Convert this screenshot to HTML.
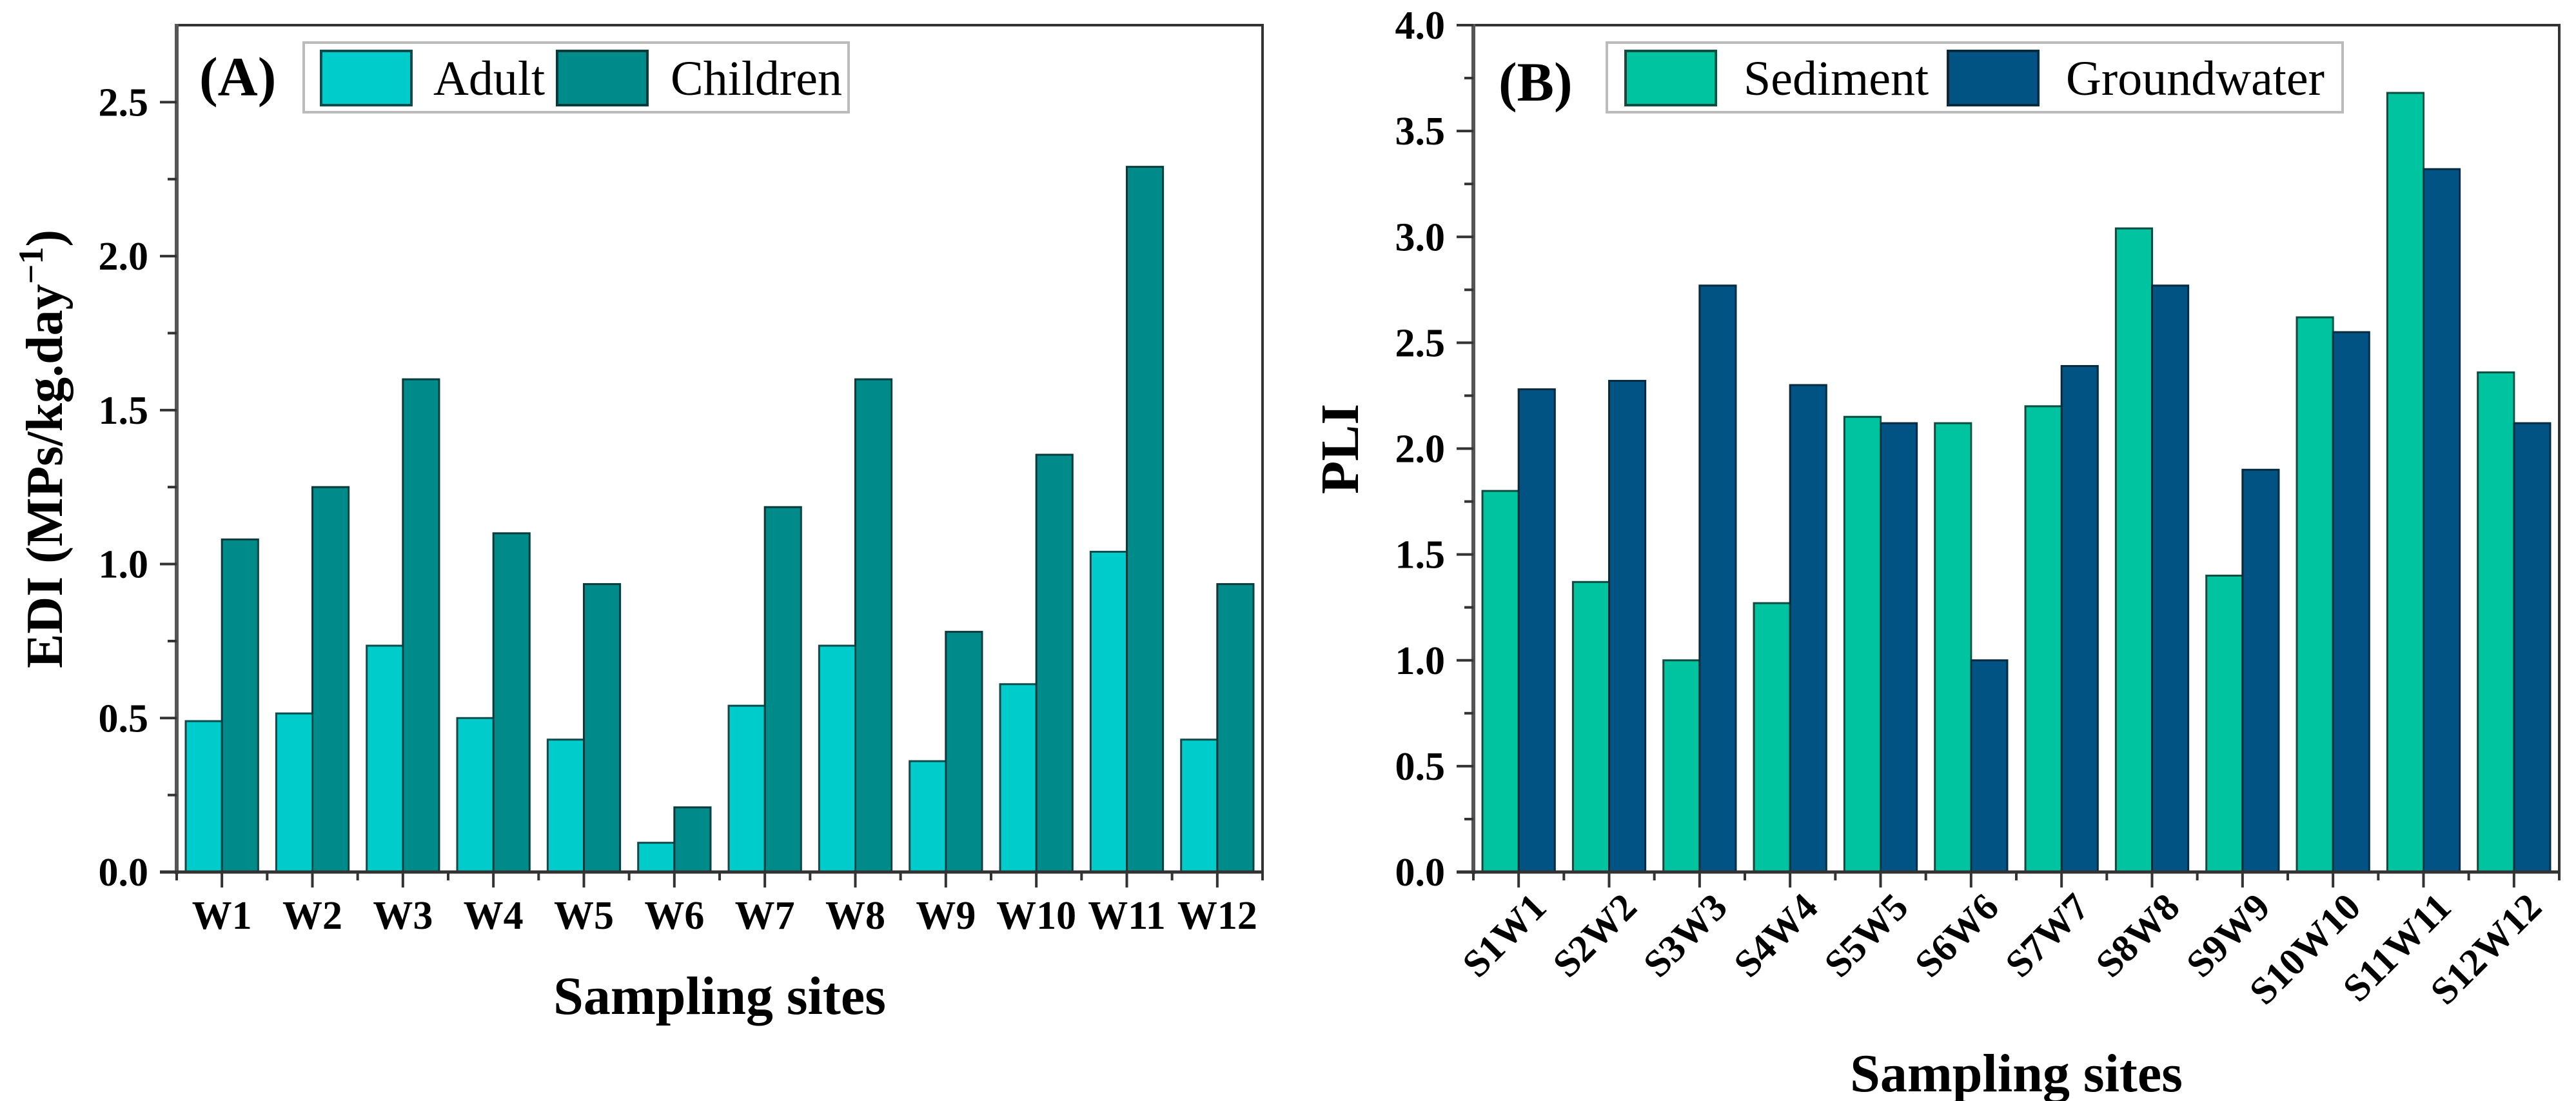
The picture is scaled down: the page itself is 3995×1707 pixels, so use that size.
<!DOCTYPE html>
<html><head><meta charset="utf-8"><style>
html,body{margin:0;padding:0;background:#fff;}
svg{display:block;font-family:"Liberation Serif","Times New Roman",serif;}
</style></head><body>
<svg id="chart" width="3995" height="1707" viewBox="0 0 3995 1707" xmlns="http://www.w3.org/2000/svg">
<rect x="0" y="0" width="3995" height="1707" fill="#fff"/>
<g id="panelA"></g>
<g id="panelB"></g>
</svg>
<script>
const catsA = ["W1","W2","W3","W4","W5","W6","W7","W8","W9","W10","W11","W12"];
const adultVals = [0.49,0.515,0.735,0.50,0.43,0.095,0.54,0.735,0.36,0.61,1.04,0.43];
const childVals = [1.08,1.25,1.60,1.10,0.935,0.21,1.185,1.60,0.78,1.355,2.29,0.935];
const ticksA = [0,0.5,1.0,1.5,2.0,2.5];
const tickLabelsA = ["0.0","0.5","1.0","1.5","2.0","2.5"];

const catsB = ["S1W1","S2W2","S3W3","S4W4","S5W5","S6W6","S7W7","S8W8","S9W9","S10W10","S11W11","S12W12"];
const sedimentVals = [1.80,1.37,1.00,1.27,2.15,2.12,2.20,3.04,1.40,2.62,3.68,2.36];
const groundVals = [2.28,2.32,2.77,2.30,2.12,1.00,2.39,2.77,1.90,2.55,3.32,2.12];
const ticksB = [0,0.5,1.0,1.5,2.0,2.5,3.0,3.5,4.0];
const tickLabelsB = ["0.0","0.5","1.0","1.5","2.0","2.5","3.0","3.5","4.0"];

const NS = "http://www.w3.org/2000/svg";
function mk(parent, tag, attrs, text){
  const e = document.createElementNS(NS, tag);
  for (const k in attrs) e.setAttribute(k, attrs[k]);
  if (text !== undefined) e.textContent = text;
  parent.appendChild(e);
  return e;
}

function drawPanel(g, cfg){
  const L = cfg.left, R = cfg.right, T = 39, B = 1352;
  const n = cfg.cats.length, gw = (R - L) / n;
  const y = v => B - (v / cfg.ymax) * (B - T);
  const xc = i => L + gw * (i + 0.5);
  // bars
  cfg.series.forEach((s, si) => {
    s.vals.forEach((v, i) => {
      const x0 = L + gw * i + gw * 0.1 + si * gw * 0.4;
      const r = mk(g, "rect", {x: x0, y: y(v), width: gw * 0.4, height: B - y(v), fill: s.color, stroke: s.stroke, "stroke-width": 3});
      
      
    });
  });
  // frame
  const fr = mk(g, "path", {d: `M${L},${T} L${R},${T} L${R},${B}`, fill: "none", stroke: "#333", "stroke-width": 4});
  
  
  const ya = mk(g, "line", {x1: L, y1: T - 2, x2: L, y2: B + 3, stroke: "#555", "stroke-width": 6});
  
  
  const xa = mk(g, "line", {x1: L - 26, y1: B, x2: R + 2, y2: B, stroke: "#333", "stroke-width": 5});
  
  
  // y ticks
  cfg.ticks.forEach((t, i) => {
    const tl = mk(g, "line", {x1: L - 26, y1: y(t), x2: L, y2: y(t), stroke: "#333", "stroke-width": 4});
    
    
    const lb = mk(g, "text", {x: L - 44, y: y(t) + 21, "text-anchor": "end", "font-size": 62, "font-weight": "bold", fill: "#000"}, cfg.tickLabels[i]);
    
    
    if (i < cfg.ticks.length - 1) {
      const m = (t + cfg.ticks[i + 1]) / 2;
      const ml = mk(g, "line", {x1: L - 14, y1: y(m), x2: L, y2: y(m), stroke: "#333", "stroke-width": 4});
      
      
    }
  });
  // x ticks & labels
  cfg.cats.forEach((c, i) => {
    const tk = mk(g, "line", {x1: xc(i), y1: B, x2: xc(i), y2: B + 24, stroke: "#333", "stroke-width": 4});
    
    
    const mt = mk(g, "line", {x1: L + gw * i, y1: B, x2: L + gw * i, y2: B + 13, stroke: "#333", "stroke-width": 4});
    
    
    let lb;
    if (cfg.rotate) {
      const px = xc(i) + 46, py = 1410;
      lb = mk(g, "text", {x: px, y: py, "text-anchor": "end", "font-size": 60, "font-weight": "bold", fill: "#000", transform: `rotate(-45 ${px} ${py})`}, c);
    } else {
      lb = mk(g, "text", {x: xc(i), y: 1440, "text-anchor": "middle", "font-size": 62, "font-weight": "bold", fill: "#000"}, c);
    }
    
    
  });
  const endT = mk(g, "line", {x1: R, y1: B, x2: R, y2: B + 13, stroke: "#333", "stroke-width": 4});
  
  
  // x title
  const xt = mk(g, "text", {x: (L + R) / 2, y: cfg.xtitleY, "text-anchor": "middle", "font-size": 84, "font-weight": "bold", fill: "#000"}, "Sampling sites");
  
  
  // panel label
  const pl = mk(g, "text", {x: cfg.plX, y: cfg.plY, "font-size": 86, "font-weight": "bold", fill: "#000"}, cfg.panelLabel);
  
  
  // legend
  const lg = mk(g, "g", {});
  
  
  const lb = cfg.legend;
  mk(lg, "rect", {x: lb.x0, y: 66, width: lb.x1 - lb.x0, height: 108, fill: "#fff", stroke: "#bbb", "stroke-width": 4});
  cfg.series.forEach((s, si) => {
    const e = mk(lg, "g", {});
    
    
    mk(e, "rect", {x: lb.sw[si], y: 79, width: 140, height: 84, fill: s.color, stroke: s.stroke, "stroke-width": 4});
    mk(e, "text", {x: lb.tx[si], y: 147, "font-size": 76, fill: "#000"}, s.name);
  });
}

drawPanel(document.getElementById("panelA"), {
  left: 274, right: 1958, ymax: 2.75, cats: catsA, ticks: ticksA, tickLabels: tickLabelsA,
  series: [
    {key: "adult", name: "Adult", vals: adultVals, color: "#00CCCC", stroke: "#0b4d4d"},
    {key: "children", name: "Children", vals: childVals, color: "#008B8B", stroke: "#083c3c"}
  ],
  rotate: false, xtitleY: 1572, panelLabel: "(A)", plX: 309, plY: 148,
  legend: {x0: 471, x1: 1316, sw: [498, 864], tx: [672, 1040]}
});
drawPanel(document.getElementById("panelB"), {
  left: 2285, right: 3969, ymax: 4.0, cats: catsB, ticks: ticksB, tickLabels: tickLabelsB,
  series: [
    {key: "sediment", name: "Sediment", vals: sedimentVals, color: "#00C4A0", stroke: "#0b4d40"},
    {key: "groundwater", name: "Groundwater", vals: groundVals, color: "#005383", stroke: "#062a40"}
  ],
  rotate: true, xtitleY: 1692, panelLabel: "(B)", plX: 2324, plY: 156,
  legend: {x0: 2492, x1: 3633, sw: [2521, 3021], tx: [2704, 3204]}
});

// y-axis titles
const svg = document.getElementById("chart");
const ytA = mk(svg, "text", {x: 0, y: 0, transform: "translate(96,696) rotate(-90)", "text-anchor": "middle", "font-size": 80, "font-weight": "bold", fill: "#000"});


mk(ytA, "tspan", {}, "EDI (MPs/kg.day");
mk(ytA, "tspan", {dy: -30, "font-size": 54}, "\u22121");
mk(ytA, "tspan", {dy: 30}, ")");
const ytB = mk(svg, "text", {x: 0, y: 0, transform: "translate(2106,696) rotate(-90)", "text-anchor": "middle", "font-size": 84, "font-weight": "bold", fill: "#000"}, "PLI");


</script>
</body></html>
